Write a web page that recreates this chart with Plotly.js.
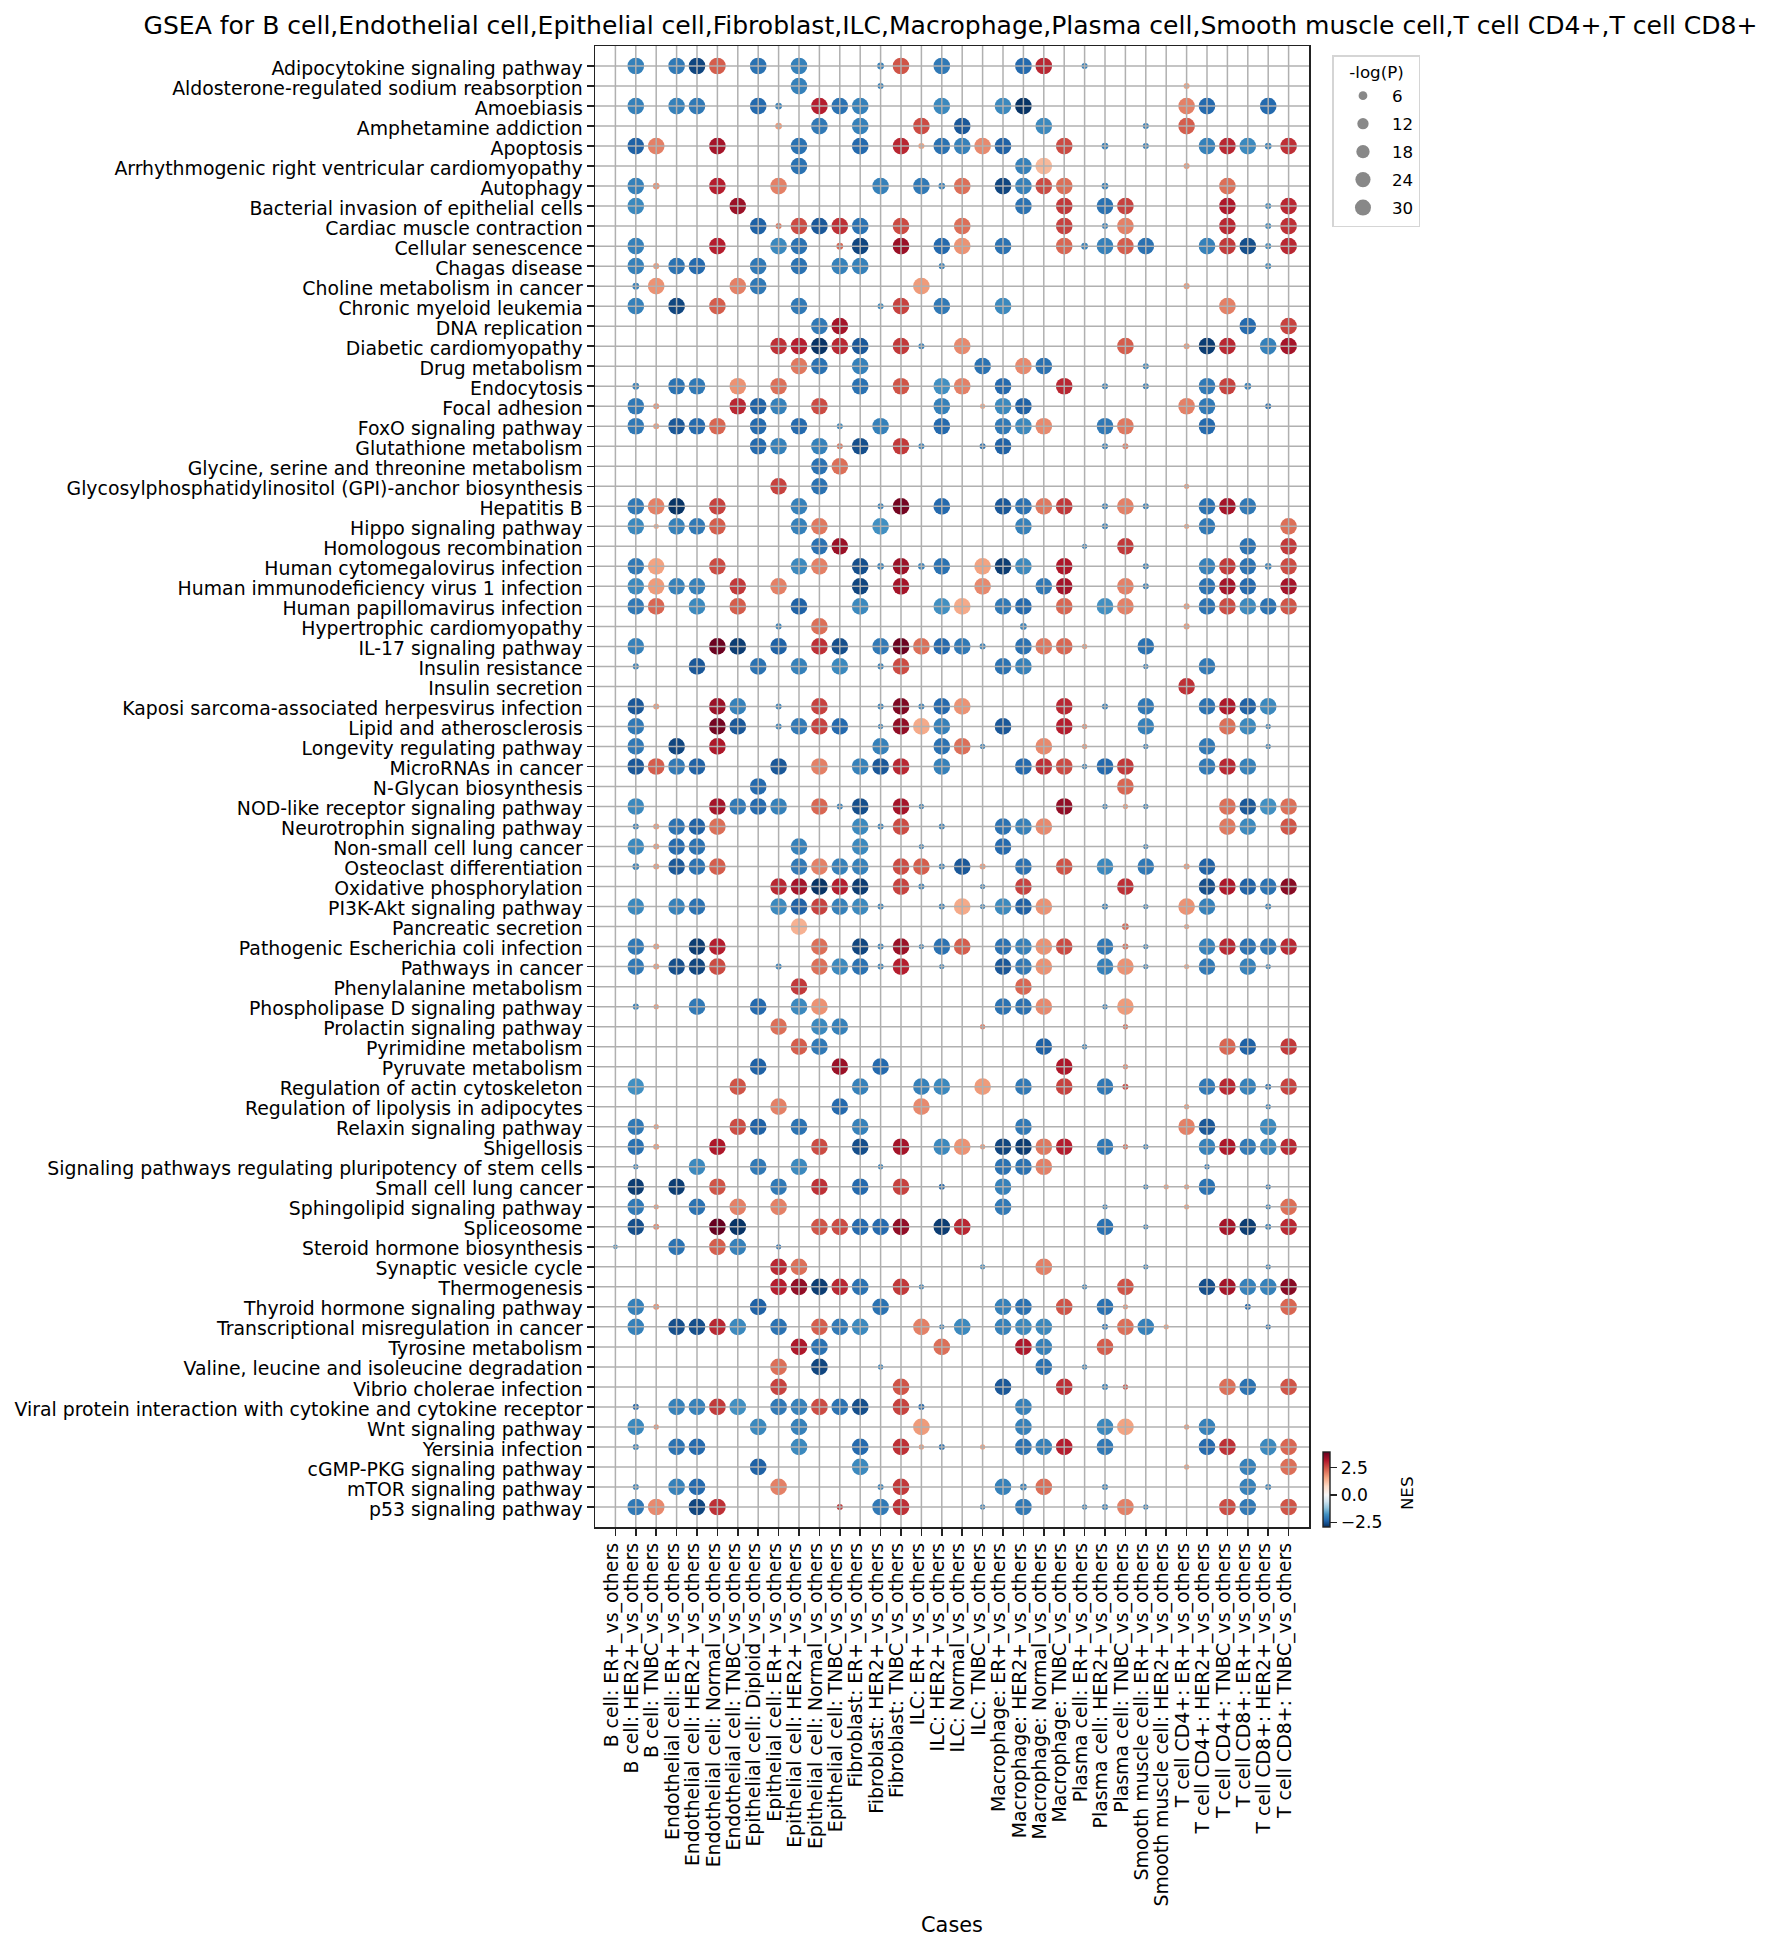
<!DOCTYPE html>
<html><head><meta charset="utf-8">
<script src="https://cdn.plot.ly/plotly-3.0.1.min.js"></script>
<style>html,body{margin:0;padding:0;background:#fff}</style>
</head><body><div id="chart" style="width:1774px;height:1951px"></div>
<script>
const cases = ["B cell: ER+_vs_others","B cell: HER2+_vs_others","B cell: TNBC_vs_others","Endothelial cell: ER+_vs_others","Endothelial cell: HER2+_vs_others","Endothelial cell: Normal_vs_others","Endothelial cell: TNBC_vs_others","Epithelial cell: Diploid_vs_others","Epithelial cell: ER+_vs_others","Epithelial cell: HER2+_vs_others","Epithelial cell: Normal_vs_others","Epithelial cell: TNBC_vs_others","Fibroblast: ER+_vs_others","Fibroblast: HER2+_vs_others","Fibroblast: TNBC_vs_others","ILC: ER+_vs_others","ILC: HER2+_vs_others","ILC: Normal_vs_others","ILC: TNBC_vs_others","Macrophage: ER+_vs_others","Macrophage: HER2+_vs_others","Macrophage: Normal_vs_others","Macrophage: TNBC_vs_others","Plasma cell: ER+_vs_others","Plasma cell: HER2+_vs_others","Plasma cell: TNBC_vs_others","Smooth muscle cell: ER+_vs_others","Smooth muscle cell: HER2+_vs_others","T cell CD4+: ER+_vs_others","T cell CD4+: HER2+_vs_others","T cell CD4+: TNBC_vs_others","T cell CD8+: ER+_vs_others","T cell CD8+: HER2+_vs_others","T cell CD8+: TNBC_vs_others"];
const pathways = ["Adipocytokine signaling pathway","Aldosterone-regulated sodium reabsorption","Amoebiasis","Amphetamine addiction","Apoptosis","Arrhythmogenic right ventricular cardiomyopathy","Autophagy","Bacterial invasion of epithelial cells","Cardiac muscle contraction","Cellular senescence","Chagas disease","Choline metabolism in cancer","Chronic myeloid leukemia","DNA replication","Diabetic cardiomyopathy","Drug metabolism","Endocytosis","Focal adhesion","FoxO signaling pathway","Glutathione metabolism","Glycine, serine and threonine metabolism","Glycosylphosphatidylinositol (GPI)-anchor biosynthesis","Hepatitis B","Hippo signaling pathway","Homologous recombination","Human cytomegalovirus infection","Human immunodeficiency virus 1 infection","Human papillomavirus infection","Hypertrophic cardiomyopathy","IL-17 signaling pathway","Insulin resistance","Insulin secretion","Kaposi sarcoma-associated herpesvirus infection","Lipid and atherosclerosis","Longevity regulating pathway","MicroRNAs in cancer","N-Glycan biosynthesis","NOD-like receptor signaling pathway","Neurotrophin signaling pathway","Non-small cell lung cancer","Osteoclast differentiation","Oxidative phosphorylation","PI3K-Akt signaling pathway","Pancreatic secretion","Pathogenic Escherichia coli infection","Pathways in cancer","Phenylalanine metabolism","Phospholipase D signaling pathway","Prolactin signaling pathway","Pyrimidine metabolism","Pyruvate metabolism","Regulation of actin cytoskeleton","Regulation of lipolysis in adipocytes","Relaxin signaling pathway","Shigellosis","Signaling pathways regulating pluripotency of stem cells","Small cell lung cancer","Sphingolipid signaling pathway","Spliceosome","Steroid hormone biosynthesis","Synaptic vesicle cycle","Thermogenesis","Thyroid hormone signaling pathway","Transcriptional misregulation in cancer","Tyrosine metabolism","Valine, leucine and isoleucine degradation","Vibrio cholerae infection","Viral protein interaction with cytokine and cytokine receptor","Wnt signaling pathway","Yersinia infection","cGMP-PKG signaling pathway","mTOR signaling pathway","p53 signaling pathway"];
// One list per pathway: [case index, NES, -log(P)]
const cells = [
[[1,-2,30],[3,-2.1,30],[4,-2.7,30],[5,2.4,30],[7,-2.2,30],[9,-2,30],[13,-2,5],[14,2.5,30],[16,-2.1,30],[20,-2.3,30],[21,3,30],[23,-2,4]],
[[9,-2,30],[13,-2,4],[28,1.6,4]],
[[1,-2,30],[3,-2,30],[4,-2.1,30],[7,-2.3,30],[8,-2,5],[10,3.1,30],[11,-2.2,30],[12,-2,30],[16,-1.9,30],[19,-1.9,30],[20,-2.9,30],[28,2,30],[29,-2.3,30],[32,-2.3,30]],
[[8,1.7,5],[10,-2.1,30],[12,-2,30],[15,2.6,30],[17,-2.5,30],[21,-1.9,30],[26,-2,4],[28,2.4,30]],
[[1,-2.4,30],[2,2,30],[5,3.3,30],[9,-2.2,30],[12,-2.3,30],[14,3,30],[15,1.6,4],[16,-2.2,30],[17,-2,30],[18,1.9,30],[19,-2.4,30],[22,2.6,30],[24,-2,5],[26,-2,4],[29,-2,30],[30,3,30],[31,-1.9,30],[32,-2,5],[33,2.9,30]],
[[9,-2.2,30],[20,-2,30],[21,1.3,30],[28,1.7,4]],
[[1,-2,30],[2,1.8,5],[5,3.1,30],[8,2,30],[13,-2,30],[15,-2.1,30],[16,-2,5],[17,2.2,30],[19,-2.7,30],[20,-2,30],[21,2.6,30],[22,2.2,30],[24,-2,5],[30,2.2,30]],
[[1,-1.9,30],[6,3.4,30],[20,-2.2,30],[22,2.8,30],[24,-2.2,30],[25,2.7,30],[30,3.2,30],[32,-1.9,4],[33,3,30]],
[[7,-2.4,30],[8,2.1,4],[9,2.6,30],[10,-2.5,30],[11,2.9,30],[12,-2.2,30],[14,2.6,30],[17,2.2,30],[22,2.7,30],[24,-2,4],[25,2,30],[30,3,30],[32,-1.9,4],[33,2.9,30]],
[[1,-2,30],[5,3.1,30],[8,-1.9,30],[9,-2.2,30],[11,2.3,5],[12,-2.7,30],[14,3.4,30],[16,-2.3,30],[17,1.8,30],[19,-2.2,30],[22,2.3,30],[23,-2,5],[24,-2,30],[25,2.4,30],[26,-2.2,30],[29,-2,30],[30,2.8,30],[31,-2.6,30],[32,-1.9,4],[33,3,30]],
[[1,-2,30],[2,1.7,4],[3,-2.2,30],[4,-2.3,30],[7,-2.1,30],[9,-2.2,30],[11,-2,30],[12,-2,30],[16,-2,4],[32,-1.9,4]],
[[1,-2,5],[2,1.8,30],[6,2,30],[7,-2.1,30],[15,1.7,30],[28,1.7,4]],
[[1,-2,30],[3,-2.7,30],[5,2.4,30],[9,-2.1,30],[13,-1.9,4],[14,2.7,30],[16,-2.1,30],[19,-1.9,30],[30,2,30]],
[[10,-2.1,30],[11,3.3,30],[31,-2.3,30],[33,2.7,30]],
[[8,2.9,30],[9,3.1,30],[10,-2.9,30],[11,3,30],[12,-2.5,30],[14,2.8,30],[15,-2,4],[17,1.9,30],[25,2.4,30],[28,1.7,4],[29,-2.8,30],[30,3,30],[32,-2,30],[33,3.3,30]],
[[9,2.1,30],[10,-2.2,30],[12,-2,30],[18,-2.2,30],[20,1.9,30],[21,-2.2,30],[26,-1.9,4]],
[[1,-2,5],[3,-2.2,30],[4,-2.1,30],[6,1.8,30],[8,2.2,30],[12,-2.2,30],[14,2.5,30],[16,-1.8,30],[17,2,30],[19,-2.3,30],[22,3,30],[24,-2,4],[26,-2,4],[29,-2.1,30],[30,2.7,30],[31,-2,5]],
[[1,-2.1,30],[2,1.8,4],[6,3,30],[7,-2.4,30],[8,-2,30],[10,2.6,30],[16,-2,30],[18,1.5,3],[19,-1.9,30],[20,-2.4,30],[28,2,30],[29,-2.1,30],[32,-2.2,4]],
[[1,-2.1,30],[2,1.7,4],[3,-2.5,30],[4,-2.3,30],[5,2.3,30],[7,-2.3,30],[9,-2.3,30],[11,-1.9,4],[13,-2,30],[16,-2.3,30],[19,-2.1,30],[20,-1.9,30],[21,1.9,30],[24,-2.1,30],[25,2.1,30],[29,-2.3,30]],
[[7,-2.3,30],[8,-2,30],[10,-2,30],[11,2.1,4],[12,-2.6,30],[14,2.8,30],[15,-2,4],[18,-2.2,4],[19,-2.4,30],[24,-2,4],[25,2,4]],
[[10,-2.2,30],[11,2.2,30]],
[[8,2.7,30],[10,-2.2,30],[28,1.7,3]],
[[1,-2.1,30],[2,2,30],[3,-2.9,30],[5,2.7,30],[9,-2,30],[13,-2,4],[14,3.8,30],[16,-2.3,30],[19,-2.5,30],[20,-2.2,30],[21,2.1,30],[22,2.8,30],[24,-2,4],[25,2,30],[26,-2,4],[29,-2.2,30],[30,3.3,30],[31,-2.1,30]],
[[1,-1.9,30],[2,1.5,3],[3,-2,30],[4,-2.1,30],[5,2.4,30],[9,-2,30],[10,2.1,30],[13,-1.8,30],[20,-2,30],[24,-2,4],[28,1.6,3],[29,-2.1,30],[33,2.2,30]],
[[10,-2.2,30],[11,3.4,30],[23,-2,3],[25,2.8,30],[31,-2.2,30],[33,2.8,30]],
[[1,-2.1,30],[2,1.6,30],[5,2.6,30],[9,-1.9,30],[10,2,30],[12,-2.6,30],[13,-2,5],[14,3.4,30],[15,-2,5],[16,-2.2,30],[18,1.6,30],[19,-2.8,30],[20,-1.9,30],[22,3.2,30],[26,-2,4],[29,-2,30],[30,2.8,30],[31,-2.2,30],[32,-2,5],[33,2.6,30]],
[[1,-1.9,30],[2,1.7,30],[3,-2,30],[4,-2,30],[6,2.8,30],[8,2,30],[12,-2.7,30],[14,3.3,30],[18,1.9,30],[21,-2.1,30],[22,3.3,30],[25,2,30],[26,-2,4],[29,-2.2,30],[30,3.3,30],[31,-2.3,30],[33,3.3,30]],
[[1,-2.1,30],[2,2.3,30],[4,-1.9,30],[6,2.4,30],[9,-2.4,30],[12,-1.9,30],[16,-1.8,30],[17,1.5,30],[19,-2.1,30],[20,-2.3,30],[22,2.3,30],[24,-1.8,30],[25,2,30],[28,1.7,4],[29,-2.2,30],[30,2.6,30],[31,-1.9,30],[32,-2.2,30],[33,2.5,30]],
[[8,-2,4],[10,2.2,30],[20,-2,5],[28,1.7,4]],
[[1,-2,30],[5,3.9,30],[6,-2.8,30],[8,-2.4,30],[10,2.9,30],[11,-2.6,30],[13,-2.1,30],[14,3.9,30],[15,2.2,30],[16,-2.3,30],[17,-2.1,30],[18,-2,4],[20,-2.2,30],[21,2.1,30],[22,2.3,30],[23,1.7,3],[26,-2.2,30]],
[[1,-2,4],[4,-2.5,30],[7,-2.2,30],[9,-2,30],[11,-1.9,30],[13,-2,4],[14,2.6,30],[19,-2.2,30],[20,-2,30],[26,-2,3],[29,-2.1,30]],
[[28,2.9,30]],
[[1,-2.5,30],[2,1.7,4],[5,3.4,30],[6,-2,30],[8,-2,4],[10,2.7,30],[13,-2,4],[14,3.7,30],[15,-2,4],[16,-2.3,30],[17,1.8,30],[22,3,30],[24,-2,4],[26,-2.1,30],[29,-2.2,30],[30,3.2,30],[31,-2.4,30],[32,-1.9,30]],
[[1,-2.1,30],[5,3.8,30],[6,-2.5,30],[8,-2,4],[9,-2.1,30],[10,2.7,30],[11,-2.3,30],[13,-2,3],[14,3.5,30],[15,1.5,30],[16,-2,30],[19,-2.5,30],[22,3.1,30],[23,1.8,3],[26,-2,30],[30,2.2,30],[31,-1.9,30],[32,-2,3]],
[[1,-2.1,30],[3,-2.7,30],[5,3.2,30],[13,-2,30],[16,-2.2,30],[17,2.2,30],[18,-2,3],[21,1.9,30],[23,1.7,3],[26,-2,3],[29,-2.1,30],[32,-2,3]],
[[1,-2.5,30],[2,2.4,30],[3,-2.1,30],[4,-2.4,30],[8,-2.5,30],[10,2,30],[12,-2,30],[13,-2.5,30],[14,3,30],[16,-2,30],[20,-2.3,30],[21,2.9,30],[22,2.6,30],[23,-2,3],[24,-2.3,30],[25,2.8,30],[29,-2.1,30],[30,3,30],[31,-2,30]],
[[7,-2.3,30],[25,2.3,30]],
[[1,-1.9,30],[5,3.3,30],[6,-2.1,30],[7,-2.3,30],[8,-2,30],[10,2.3,30],[11,-2,4],[12,-2.6,30],[14,3.3,30],[15,-2,3],[22,3.5,30],[24,-2,3],[25,1.7,3],[26,-2,3],[30,2.2,30],[31,-2.5,30],[32,-1.8,30],[33,2.2,30]],
[[1,-2,4],[2,1.7,4],[3,-2.2,30],[4,-2.4,30],[5,2.2,30],[12,-1.9,30],[13,-2,4],[14,2.6,30],[16,-2,4],[19,-2.2,30],[20,-2,30],[21,1.9,30],[30,2.1,30],[31,-1.9,30],[33,2.5,30]],
[[1,-1.9,30],[2,1.7,4],[3,-2.3,30],[4,-2.2,30],[9,-2,30],[12,-1.9,30],[15,-2,3],[19,-2.3,30],[26,-2,3]],
[[1,-2,5],[2,1.7,4],[3,-2.5,30],[4,-2.2,30],[5,2.4,30],[9,-2.1,30],[10,2,30],[11,-2,30],[12,-2,30],[14,2.6,30],[15,2.4,30],[16,-2,4],[17,-2.5,30],[18,1.7,4],[20,-2.2,30],[22,2.5,30],[24,-1.9,30],[26,-2.1,30],[28,1.7,4],[29,-2.4,30]],
[[8,3,30],[9,3.3,30],[10,-2.9,30],[11,3.1,30],[12,-2.8,30],[14,2.7,30],[15,-2,4],[18,-2,3],[20,2.7,30],[25,2.9,30],[29,-2.6,30],[30,3.2,30],[31,-2.4,30],[32,-2.2,30],[33,3.6,30]],
[[1,-1.9,30],[3,-2,30],[4,-2.2,30],[8,-1.9,30],[9,-2.4,30],[10,2.7,30],[11,-2,30],[12,-1.9,30],[13,-2,4],[16,-2,4],[17,1.5,30],[18,-2,3],[19,-1.9,30],[20,-2.4,30],[21,1.8,30],[24,-2,4],[26,-2,3],[28,1.8,30],[29,-2,30],[32,-2,4]],
[[9,1.4,30],[25,2.3,5],[28,1.6,3]],
[[1,-2.1,30],[2,1.7,4],[4,-2.8,30],[5,3.1,30],[10,2.2,30],[12,-2.7,30],[13,-2,4],[14,3.4,30],[15,-2,3],[16,-2.2,30],[17,2.4,30],[19,-2.2,30],[20,-2,30],[21,1.8,30],[22,2.6,30],[24,-2.1,30],[25,2.2,4],[26,-2,3],[29,-2,30],[30,3,30],[31,-2.2,30],[32,-2.1,30],[33,3,30]],
[[1,-2.1,30],[2,1.7,4],[3,-2.6,30],[4,-2.7,30],[5,2.6,30],[8,-2,4],[10,2.2,30],[11,-1.9,30],[12,-2.2,30],[13,-2,4],[14,3.1,30],[16,-2,3],[19,-2.5,30],[20,-2.1,30],[21,1.8,30],[24,-2,30],[25,1.8,30],[26,-2,3],[28,1.5,3],[29,-2.1,30],[31,-2,30],[32,-2,3]],
[[9,2.8,30],[20,2.3,30]],
[[1,-2,4],[2,1.7,3],[4,-2.1,30],[7,-2.3,30],[9,-1.9,30],[10,1.8,30],[19,-2.2,30],[20,-2.2,30],[21,1.9,30],[24,-2,3],[25,1.7,30]],
[[8,2.2,30],[10,-1.9,30],[11,-2,30],[18,2,3],[25,2.2,3]],
[[9,2.4,30],[10,-2.1,30],[21,-2.4,30],[23,-2,3],[30,2.3,30],[31,-2.4,30],[33,2.8,30]],
[[7,-2.4,30],[11,3.4,30],[13,-2.3,30],[22,3.2,30],[25,1.9,3]],
[[1,-1.8,30],[6,2.5,30],[12,-2,30],[15,-2,30],[16,-1.9,30],[18,1.7,30],[20,-2.1,30],[22,2.7,30],[24,-2.1,30],[25,2.6,4],[29,-2.1,30],[30,3,30],[31,-2,30],[32,-2.2,4],[33,2.7,30]],
[[8,2,30],[11,-2.3,30],[15,1.9,30],[28,1.7,3],[32,-2,3]],
[[1,-2.1,30],[2,1.7,3],[6,2.6,30],[7,-2.4,30],[9,-2.2,30],[12,-2,30],[20,-2.1,30],[28,2,30],[29,-2.5,30],[32,-1.9,30]],
[[1,-2.2,30],[2,1.7,4],[5,3.2,30],[10,2.6,30],[12,-2.6,30],[14,3.3,30],[16,-1.9,30],[17,1.8,30],[18,1.7,3],[19,-2.7,30],[20,-2.8,30],[21,2.1,30],[22,3.1,30],[24,-2.1,30],[25,2.2,3],[26,-2,3],[29,-2,30],[30,3.2,30],[31,-2.1,30],[32,-1.9,30],[33,3,30]],
[[1,-2,3],[4,-1.9,30],[7,-2.1,30],[9,-1.9,30],[13,-2,3],[19,-2.2,30],[20,-2.2,30],[21,2,30],[29,-2.1,3]],
[[1,-2.8,30],[3,-2.8,30],[5,2.5,30],[8,-2.1,30],[10,2.9,30],[12,-2.3,30],[14,2.7,30],[16,-2.3,4],[19,-2,30],[26,-2,3],[27,1.6,3],[28,1.7,3],[29,-2.2,30],[32,-2.1,3]],
[[1,-2.1,30],[2,1.7,3],[4,-2.2,30],[6,2,30],[8,2,30],[19,-2.1,30],[24,-2,3],[28,1.6,3],[32,-2,3],[33,2.2,30]],
[[1,-2.6,30],[2,1.9,4],[5,3.95,30],[6,-2.9,30],[10,2.5,30],[11,2.6,30],[12,-2.3,30],[13,-2.3,30],[14,3.5,30],[16,-2.8,30],[17,3,30],[24,-2.2,30],[26,-2,3],[30,3.3,30],[31,-2.8,30],[32,-2,4],[33,3,30]],
[[0,-1.9,2.5],[3,-2.2,30],[5,2.4,30],[6,-2,30],[8,-2.2,3]],
[[8,3,30],[9,2.2,30],[18,-1.9,3],[21,2,30],[26,-2,3],[32,-2,3]],
[[8,3.1,30],[9,3.5,30],[10,-2.8,30],[11,3,30],[12,-2.2,30],[14,2.8,30],[15,-2,3],[23,-2,3],[25,2.5,30],[29,-2.6,30],[30,3.3,30],[31,-2,30],[32,-2,30],[33,3.6,30]],
[[1,-2,30],[2,1.8,4],[7,-2.4,30],[13,-2.2,30],[19,-2,30],[20,-2.2,30],[22,2.5,30],[24,-2.2,30],[25,1.8,3],[31,-2.3,4],[33,2.3,30]],
[[1,-2,30],[3,-2.6,30],[4,-2.6,30],[5,3,30],[6,-1.9,30],[8,-2.2,30],[10,2.4,30],[11,-2.1,30],[12,-1.9,30],[15,2,30],[16,-2,3],[17,-1.9,30],[19,-2,30],[20,-1.9,30],[21,-1.9,30],[24,-2.1,4],[25,2.2,30],[26,-2,30],[27,1.6,3],[32,-2.2,3]],
[[9,3.2,30],[10,-2.2,30],[16,2.2,30],[20,3.2,30],[21,-2,30],[24,2.4,30]],
[[8,2.2,30],[10,-2.7,30],[13,-2,3],[21,-2.2,30],[23,-2,3]],
[[8,2.7,30],[14,2.5,30],[19,-2.5,30],[22,2.9,30],[24,-2,4],[25,2.5,3],[30,2.2,30],[31,-2.2,30],[33,2.5,30]],
[[1,-2.3,4],[3,-2,30],[4,-2,30],[5,2.8,30],[6,-1.8,30],[8,-2.1,30],[9,-2,30],[10,2.6,30],[11,-2.2,30],[12,-2.6,30],[14,2.7,30],[15,-2.3,4],[20,-2,30]],
[[1,-1.9,30],[2,1.8,3],[7,-1.9,30],[9,-2,30],[15,1.7,30],[20,-2,30],[24,-1.9,30],[25,1.6,30],[28,1.7,3],[29,-2,30]],
[[1,-2,4],[3,-2.2,30],[4,-2.3,30],[9,-1.9,30],[12,-2.3,30],[14,2.9,30],[15,1.7,3],[16,-2.2,4],[18,1.6,3],[20,-2.2,30],[21,-2,30],[22,3.1,30],[24,-2.1,30],[29,-2.3,30],[30,2.9,30],[32,-1.9,30],[33,2.3,30]],
[[7,-2.4,30],[12,-1.9,30],[28,1.6,3],[31,-2,30],[33,2.2,30]],
[[1,-2,4],[3,-2,30],[4,-2.3,30],[8,2,30],[13,-2,4],[14,2.8,30],[19,-2,30],[20,-2,5],[21,2.2,30],[24,-2,4],[31,-2,30],[32,-2,4]],
[[1,-2.1,30],[2,1.9,30],[4,-2.7,30],[5,2.9,30],[11,2.8,4],[13,-2.1,30],[14,2.9,30],[18,-2,3],[20,-2.1,30],[23,-2,3],[24,-2,4],[25,2,30],[26,-2,3],[30,2.6,30],[31,-2.1,30],[33,2.5,30]]
];
const sizeLegendValues = [6,12,18,24,30];
const colorbarTicks = [-2.5,0,2.5];
const colorbarTickText = ["\u22122.5","0.0","2.5"];
const nesMin = -2.94, nesMax = 3.95;

const xs=[],ys=[],nes=[],logp=[];
cells.forEach((row,r)=>row.forEach(([c,n,p])=>{xs.push(cases[c]);ys.push(pathways[r]);nes.push(n);logp.push(p);}));

const rdbu=["#053061","#2166ac","#4393c3","#92c5de","#d1e5f0","#f7f7f7","#fddbc7","#f4a582","#d6604d","#b2182b","#67001f"];
const mid=-nesMin/(nesMax-nesMin);
const colorscale=rdbu.map((col,i)=>[i<=5?(i/5)*mid:mid+((i-5)/5)*(1-mid),col]);
const diam=v=>3.05*Math.sqrt(v);
const legendDiam=v=>Math.sqrt(8.45*v+26);
const W=1774,H=1951,L=594.7,R=1309.5,T=45.5,B=1527.3;
const FONT="DejaVu Sans";
const TICK=18.85, SMALL=16.67;

const traces=[{type:"scatter",mode:"markers",x:xs,y:ys,showlegend:false,hoverinfo:"x+y",
 marker:{color:nes,cmin:nesMin,cmax:nesMax,colorscale,opacity:1,size:logp.map(diam),sizemode:"diameter",line:{width:0},
  colorbar:{lenmode:"pixels",len:75,thicknessmode:"pixels",thickness:7,xref:"paper",yref:"paper",x:(1324-L)/(R-L),xanchor:"left",y:0,yanchor:"bottom",xpad:0,ypad:0,
   outlinewidth:1.4,outlinecolor:"#222",tickmode:"array",tickvals:colorbarTicks,ticktext:colorbarTickText,ticks:"outside",ticklen:7,tickwidth:1.4,tickcolor:"#222",
   tickfont:{family:FONT,size:17.2,color:"#000"}}}}];
sizeLegendValues.forEach(v=>traces.push({type:"scatter",mode:"markers",x:[null],y:[null],name:String(v),legendgroup:"s"+v,showlegend:true,
 marker:{size:legendDiam(v),opacity:1,color:"#888888",line:{width:0}},hoverinfo:"skip"}));

const line={color:"#b0b0b0",width:1.5};
const shapes=[];
cases.forEach(c=>shapes.push({type:"line",layer:"above",xref:"x",yref:"paper",x0:c,x1:c,y0:0,y1:1,line}));
pathways.forEach(p=>shapes.push({type:"line",layer:"above",xref:"paper",yref:"y",x0:0,x1:1,y0:p,y1:p,line}));

const layout={width:W,height:H,autosize:false,paper_bgcolor:"#fff",plot_bgcolor:"#fff",
 margin:{l:L,r:W-R,t:T,b:H-B,pad:0,autoexpand:false},font:{family:FONT,size:TICK,color:"#000"},
 title:{text:"GSEA for B cell,Endothelial cell,Epithelial cell,Fibroblast,ILC,Macrophage,Plasma cell,Smooth muscle cell,T cell CD4+,T cell CD8+",font:{family:FONT,size:25.05,color:"#000"},xref:"container",x:950.5/W,xanchor:"center",yref:"container",y:1-25/H,yanchor:"middle"},
 xaxis:{type:"category",categoryorder:"array",categoryarray:cases,range:[-1,34],showgrid:false,zeroline:false,showline:true,mirror:true,linecolor:"#222",linewidth:1.5,ticks:"outside",ticklen:7,tickwidth:1.5,tickcolor:"#222",tickangle:-90,tickfont:{family:FONT,size:TICK},automargin:false,tickmode:"array",tickvals:cases,ticktext:cases,
  title:{text:"Cases",font:{family:FONT,size:20.83},standoff:12}},
 yaxis:{type:"category",categoryorder:"array",categoryarray:pathways,range:[73,-1],showgrid:false,zeroline:false,showline:true,mirror:true,linecolor:"#222",linewidth:1.5,ticks:"outside",ticklen:7,tickwidth:1.5,tickcolor:"#222",tickfont:{family:FONT,size:TICK},automargin:false,tickmode:"array",tickvals:pathways,ticktext:pathways},
 legend:{x:(1333-L)/(R-L),xanchor:"left",y:(B-54.7)/(B-T),yanchor:"top",bgcolor:"#fff",bordercolor:"#d5d5d5",borderwidth:1.5,title:{text:"-log(P)",font:{family:FONT,size:SMALL},side:"top center"},font:{family:FONT,size:SMALL},itemwidth:48,tracegroupgap:3.3,itemclick:false,itemdoubleclick:false},
 annotations:[{text:"NES",xref:"paper",yref:"paper",x:(1408-L)/(R-L),y:(B-1493)/(B-T),textangle:-90,showarrow:false,xanchor:"center",yanchor:"middle",font:{family:FONT,size:SMALL,color:"#000"}}],
 shapes};
Plotly.newPlot("chart",traces,layout,{displayModeBar:false,staticPlot:true}).then(gd=>{
 const nudge=(sel,dx,dy)=>gd.querySelectorAll(sel).forEach(el=>el.setAttribute("transform","translate("+dx+","+dy+")"));
 nudge(".xaxislayer-above g.xtick",-4,0);
 nudge(".yaxislayer-above g.ytick",0,2);
 nudge(".colorbar g.ytick",6,0);
});
</script></body></html>
